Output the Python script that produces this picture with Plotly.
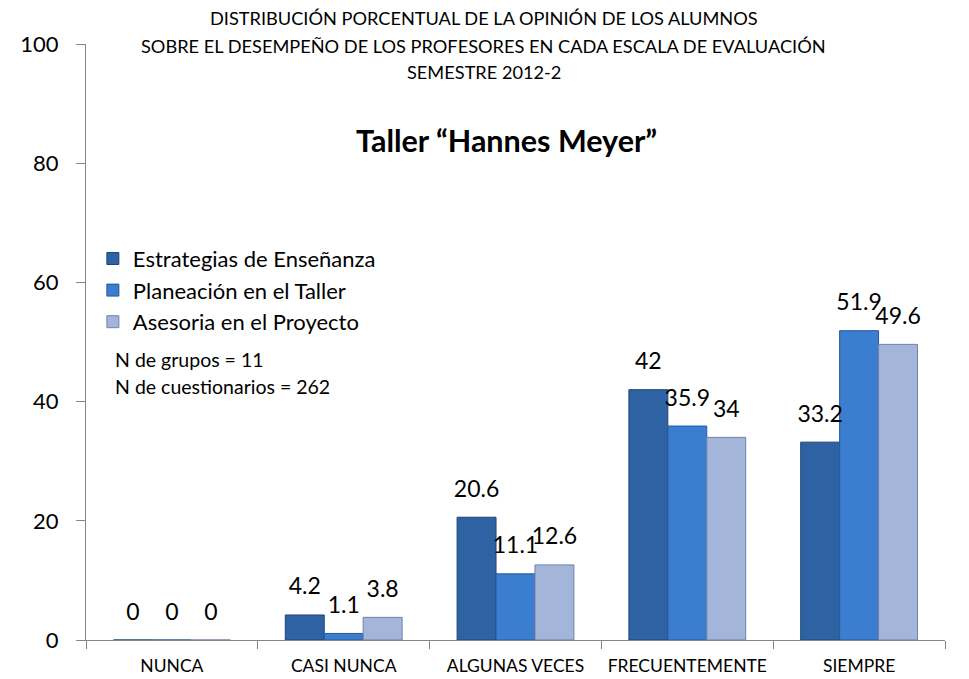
import plotly.graph_objects as go

categorias = ["NUNCA", "CASI NUNCA", "ALGUNAS VECES", "FRECUENTEMENTE", "SIEMPRE"]
estrategias = [0, 4.2, 20.6, 42, 33.2]
planeacion = [0, 1.1, 11.1, 35.9, 51.9]
asesoria = [0, 3.8, 12.6, 34, 49.6]

series = [
    ("Estrategias de Enseñanza", estrategias, "#2F62A3", "#1F4577"),
    ("Planeación en el Taller", planeacion, "#3B7DCF", "#28589A"),
    ("Asesoria en el Proyecto", asesoria, "#A3B5D8", "#6F83A8"),
]

font = "Lato, 'Open Sans', sans-serif"

fig = go.Figure()
for i, (nombre, valores, color, borde) in enumerate(series):
    fig.add_trace(
        go.Bar(
            name=nombre,
            x=categorias,
            y=valores,
            offsetgroup=str(i),
            marker={"color": color, "line": {"color": borde, "width": 1}},
        )
    )
# value labels sit well above the bars, as in the original
for i, (nombre, valores, color, borde) in enumerate(series):
    fig.add_trace(
        go.Scatter(
            x=categorias,
            y=valores,
            offsetgroup=str(i),
            mode="markers+text",
            marker={"size": 22, "opacity": 0},
            text=[f"{v:g}" for v in valores],
            textposition="top center",
            textfont={"size": 23, "color": "#000000", "family": font},
            cliponaxis=False,
            showlegend=False,
            hoverinfo="skip",
        )
    )

titulos = [
    ("DISTRIBUCIÓN PORCENTUAL DE LA OPINIÓN DE LOS ALUMNOS", 1.0436),
    ("SOBRE EL DESEMPEÑO DE LOS PROFESORES EN CADA ESCALA DE EVALUACIÓN", 0.9966),
    ("SEMESTRE 2012-2", 0.953),
]
anotaciones = [
    dict(
        text=t, x=0.463, y=y, xref="paper", yref="paper", showarrow=False,
        font={"size": 18.2, "color": "#000000", "family": font},
        xanchor="center", yanchor="middle",
    )
    for t, y in titulos
]
anotaciones.append(
    dict(
        text="<b>Taller “Hannes Meyer”</b>", x=0.489, y=0.839, xref="paper", yref="paper",
        showarrow=False, font={"size": 30.5, "color": "#000000", "family": font},
        xanchor="center", yanchor="middle",
    )
)
for t, y in [("N de grupos = 11", 0.470), ("N de cuestionarios = 262", 0.4245)]:
    anotaciones.append(
        dict(
            text=t, x=0.031, y=y, xref="paper", yref="paper", showarrow=False,
            font={"size": 19.5, "color": "#000000", "family": font},
            xanchor="left", yanchor="middle",
        )
    )

# the page has an 8px body margin, so the figure is 8px smaller
fig.update_layout(
    width=961,
    height=671,
    paper_bgcolor="white",
    plot_bgcolor="white",
    margin={"l": 78, "r": 24, "t": 36, "b": 39, "autoexpand": False},
    barmode="group",
    bargap=0.32,
    bargroupgap=0,
    scattermode="group",
    scattergap=0.32,
    showlegend=True,
    legend={
        "x": 0.008, "y": 0.675, "xanchor": "left", "yanchor": "top",
        "font": {"size": 22, "color": "#000000", "family": font},
        "bgcolor": "rgba(0,0,0,0)", "itemwidth": 30, "tracegroupgap": 0,
    },
    annotations=anotaciones,
    font={"family": font, "color": "#000000"},
)
fig.update_xaxes(
    showline=True, linecolor="#868686", linewidth=1,
    ticks="outside", tickson="boundaries", ticklen=8, tickcolor="#868686",
    tickfont={"size": 17.5, "color": "#000000", "family": font},
    tickangle=0, ticklabelstandoff=10, automargin=False,
    showgrid=False,
)
fig.update_yaxes(
    range=[0, 100], dtick=20, showline=True, linecolor="#868686", linewidth=1,
    ticks="outside", ticklen=9, tickcolor="#868686",
    tickfont={"size": 22, "color": "#000000", "family": font},
    ticklabelstandoff=13, automargin=False,
    showgrid=False, zeroline=False,
)

fig.write_html("out.html")
